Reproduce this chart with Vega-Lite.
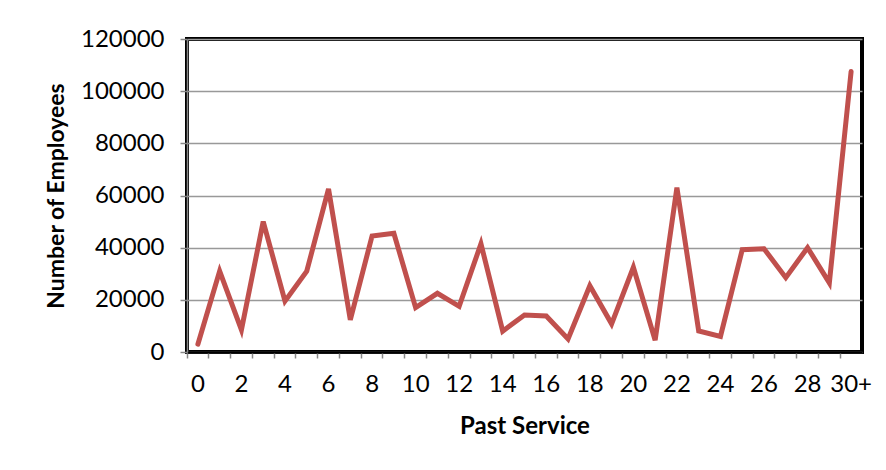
{
  "$schema": "https://vega.github.io/schema/vega-lite/v6.json",
  "autosize": {"type": "none"},
  "padding": {"left": 187, "top": 39, "right": 24, "bottom": 118},
  "width": 675,
  "height": 313,
  "background": "white",
  "data": {
    "values": [
      {"service": "0", "employees": 3000},
      {"service": "1", "employees": 31000},
      {"service": "2", "employees": 8500},
      {"service": "3", "employees": 50000},
      {"service": "4", "employees": 19500},
      {"service": "5", "employees": 31000},
      {"service": "6", "employees": 62500},
      {"service": "7", "employees": 12300},
      {"service": "8", "employees": 44500},
      {"service": "9", "employees": 45500},
      {"service": "10", "employees": 17000},
      {"service": "11", "employees": 22500},
      {"service": "12", "employees": 17500},
      {"service": "13", "employees": 41500},
      {"service": "14", "employees": 8000},
      {"service": "15", "employees": 14200},
      {"service": "16", "employees": 13800},
      {"service": "17", "employees": 5000},
      {"service": "18", "employees": 25400},
      {"service": "19", "employees": 10800},
      {"service": "20", "employees": 32500},
      {"service": "21", "employees": 4500},
      {"service": "22", "employees": 63000},
      {"service": "23", "employees": 8100},
      {"service": "24", "employees": 6000},
      {"service": "25", "employees": 39200},
      {"service": "26", "employees": 39600},
      {"service": "27", "employees": 28500},
      {"service": "28", "employees": 40000},
      {"service": "29", "employees": 26500},
      {"service": "30+", "employees": 107500}
    ]
  },
  "mark": {"type": "line", "color": "#C0504D", "strokeWidth": 5, "strokeJoin": "miter", "strokeCap": "round"},
  "encoding": {
    "x": {
      "field": "service",
      "type": "ordinal",
      "sort": null,
      "bandPosition": 0.5,
      "scale": {"type": "band", "paddingInner": 0, "paddingOuter": 0},
      "axis": {
        "title": "Past Service",
        "bandPosition": 0,
        "labelAngle": 0,
        "labelExpr": "datum.value == '30+' || toNumber(datum.value) % 2 == 0 ? datum.value : ''",
        "labelFont": "Lato",
        "labelFontSize": 24,
        "labelColor": "black",
        "labelPadding": 14,
        "tickColor": "#888888",
        "tickSize": 6,
        "tickWidth": 1.5,
        "domainColor": "black",
        "domainWidth": 2,
        "grid": false,
        "titleFont": "Lato",
        "titleFontSize": 24,
        "titleFontWeight": "bold",
        "titleColor": "black",
        "titlePadding": 18
      }
    },
    "y": {
      "field": "employees",
      "type": "quantitative",
      "scale": {"domain": [0, 120000], "nice": false},
      "axis": {
        "title": "Number of Employees",
        "values": [0, 20000, 40000, 60000, 80000, 100000, 120000],
        "format": "d",
        "labelFont": "Lato",
        "labelFontSize": 24,
        "labelColor": "black",
        "labelPadding": 16,
        "tickColor": "#888888",
        "tickSize": 7,
        "tickWidth": 1.5,
        "domainColor": "#888888",
        "domainWidth": 1.5,
        "gridColor": "#999999",
        "gridWidth": 1.5,
        "titleFont": "Lato",
        "titleFontSize": 23,
        "titleFontWeight": "bold",
        "titleColor": "black",
        "titlePadding": 12
      }
    }
  },
  "config": {
    "view": {"stroke": "black", "strokeWidth": 4}
  }
}
